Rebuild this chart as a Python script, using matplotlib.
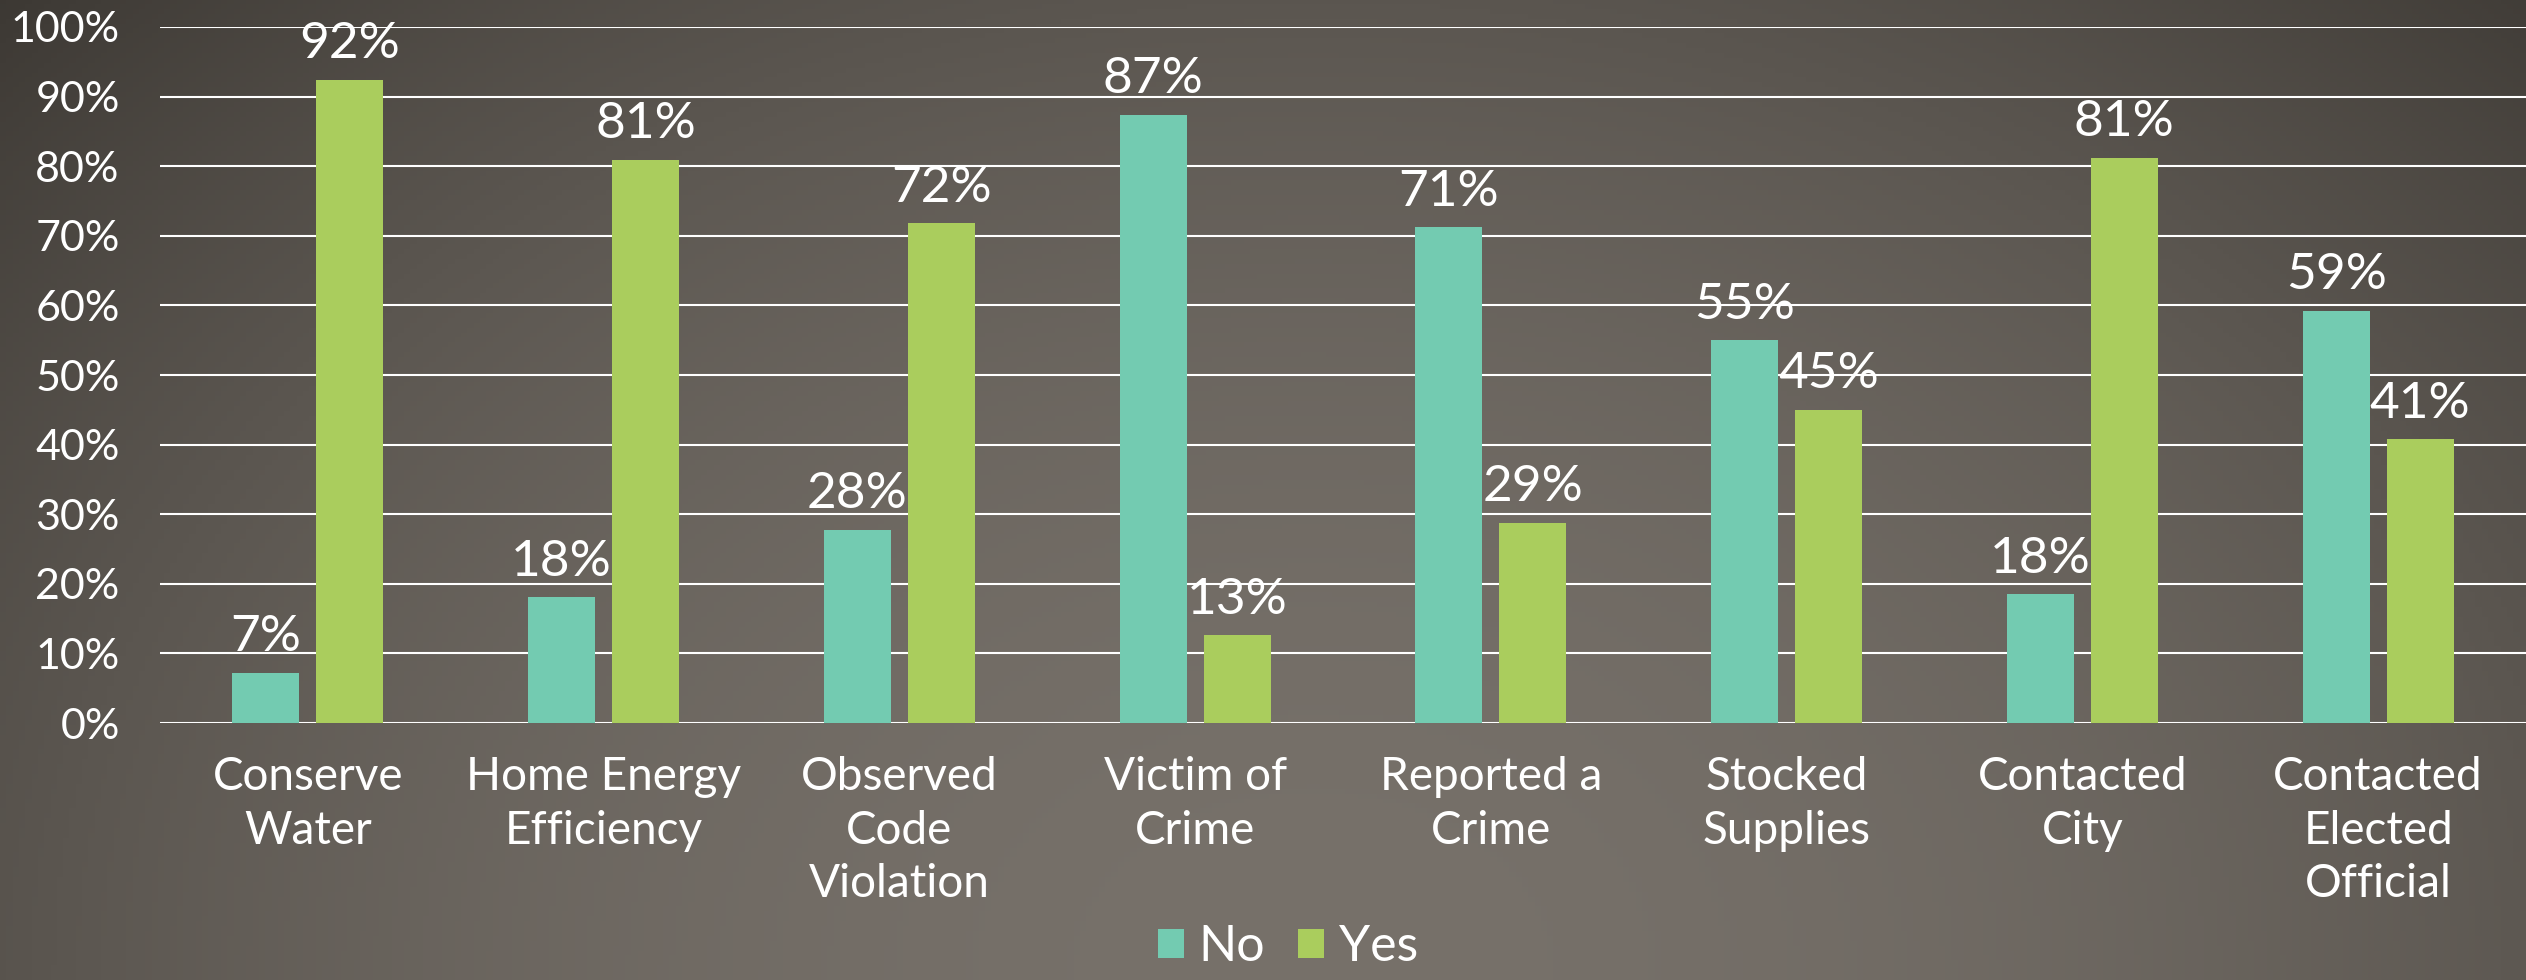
"""
Survey chart: share of respondents answering No / Yes per activity.
"""

import numpy as np
import matplotlib
matplotlib.use("Agg")
import matplotlib.pyplot as plt
from matplotlib.ticker import PercentFormatter

categories = ["Conserve\nWater", "Home Energy\nEfficiency", "Observed\nCode\nViolation",
              "Victim of\nCrime", "Reported a\nCrime", "Stocked\nSupplies",
              "Contacted\nCity", "Contacted\nElected\nOfficial"]
no_values = [7.2, 18.1, 27.8, 87.4, 71.2, 55.0, 18.5, 59.2]
yes_values = [92.4, 80.9, 71.8, 12.6, 28.8, 45.0, 81.2, 40.8]
series_names = ["No", "Yes"]

NO_COLOR = "#73cbb1"
YES_COLOR = "#aacd5d"
FONT = "Lato"

W, H, DPI = 2526, 980, 100
fig = plt.figure(figsize=(W / DPI, H / DPI), dpi=DPI)

# background: soft radial gradient, light at bottom centre, dark in top corners
bg = fig.add_axes([0, 0, 1, 1], zorder=-10)
yy, xx = np.mgrid[0:1:200j, 0:1:400j]
d2 = ((xx - 0.52) / 0.5) ** 2 + ((1 - yy)) ** 2
base = np.array([119, 113, 106]) / 255.0
drop = np.array([28, 27, 26]) / 255.0
img = np.clip(base[None, None, :] - drop[None, None, :] * d2[:, :, None], 0, 1)
bg.imshow(img, aspect="auto", extent=[0, 1, 0, 1], origin="upper")
bg.set_axis_off()

ax = fig.add_axes([160 / W, (H - 723) / H, 1 - 160 / W, (723 - 27) / H])
ax.set_facecolor("none")

x = np.arange(len(categories))
width = 0.227
offset = 0.142
b1 = ax.bar(x - offset, no_values, width, color=NO_COLOR, label=series_names[0], zorder=3)
b2 = ax.bar(x + offset, yes_values, width, color=YES_COLOR, label=series_names[1], zorder=3)

for bars in (b1, b2):
    ax.bar_label(bars, labels=[f"{v:.0f}%" for v in bars.datavalues], padding=9,
                 color="white", fontsize=37, family=FONT)

ax.set_xlim(-0.5, len(categories) - 0.5)
ax.set_ylim(0, 100)
ax.set_yticks(np.arange(0, 101, 10))
ax.yaxis.set_major_formatter(PercentFormatter(decimals=0))
ax.set_xticks(x)
ax.set_xticklabels(categories, linespacing=1.33)

ax.grid(axis="y", color="white", lw=1.5, zorder=0)
ax.tick_params(axis="y", length=0, pad=29, labelsize=31, labelcolor="white")
ax.tick_params(axis="x", length=0, pad=24, labelsize=33, labelcolor="white")
for lab in ax.get_xticklabels() + ax.get_yticklabels():
    lab.set_family(FONT)
for s in ax.spines.values():
    s.set_visible(False)

# legend sits at the very bottom edge, as in the source slide
leg = fig.legend(loc="lower center", bbox_to_anchor=(1288 / W, -0.036), ncol=2, frameon=False,
                 prop={"family": FONT, "size": 36},
                 handlelength=0.52, handleheight=0.52, handletextpad=0.3, columnspacing=0.65)
for t in leg.get_texts():
    t.set_color("white")

fig.savefig("out.png", dpi=DPI)
